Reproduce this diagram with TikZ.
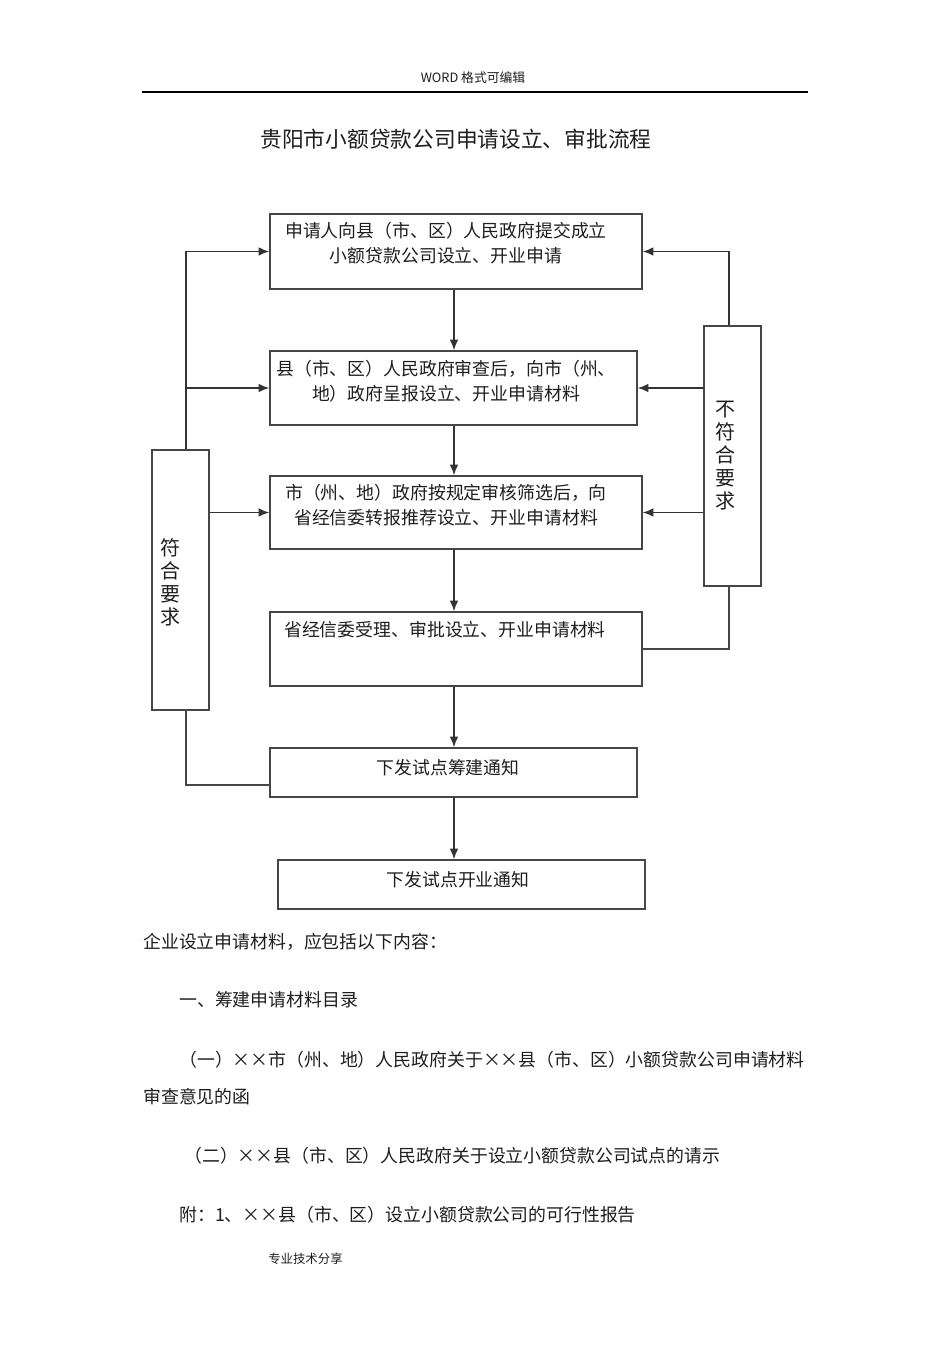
\documentclass[tikz,border=0pt]{standalone}
\usepackage{fontspec}
\setmainfont{Noto Sans CJK SC}
\usetikzlibrary{arrows.meta,positioning}

\definecolor{linegray}{RGB}{70,70,70}
\definecolor{inkgray}{RGB}{30,30,30}
\newcommand{\cross}{\makebox[1em]{×}}

\tikzset{
  box/.style={draw=linegray, line width=1.1pt, inner sep=0pt},
  conn/.style={draw=linegray, line width=1.1pt},
  arr/.style={draw=black!80, line width=1.1pt, -{Latex[length=8pt,width=6.5pt]}},
  boxtext/.style={inner sep=0pt, align=center, text=inkgray,
    font=\fontsize{13.4}{18.75}\selectfont},
  vtext/.style={inner sep=0pt, align=center, text=inkgray,
    font=\fontsize{15}{17.25}\selectfont},
  para/.style={inner sep=0pt, anchor=west, text=inkgray,
    font=\fontsize{13.4}{16}\selectfont}
}

\begin{document}
\begin{tikzpicture}[x=0.75pt,y=-0.75pt]
  \useasboundingbox[fill=white] (0,0) rectangle (950,1345);

  % header and title
  \node[inner sep=0pt, text=inkgray, font=\fontsize{9.6}{11}\selectfont] (head) at (473,78) {WORD 格式可编辑};
  \coordinate (ruleL) at (142,92);
  \coordinate (ruleR) at (808,92);
  \draw[line width=0.9pt] (ruleL) -- (ruleR);
  \node[inner sep=0pt, text=inkgray, font=\fontsize{16.3}{19}\selectfont] (title) at (456,139) {贵阳市小额贷款公司申请设立、审批流程};

  % flow boxes
  \node[box, minimum width=372*0.75pt, minimum height=75*0.75pt] (apply) at (456,251.5) {};
  \node[box, minimum width=367*0.75pt, minimum height=74*0.75pt] (county) at (453.5,388) {};
  \node[box, minimum width=372*0.75pt, minimum height=73*0.75pt] (city) at (456,512.5) {};
  \node[box, minimum width=372*0.75pt, minimum height=74*0.75pt] (prov) at (456,649) {};
  \node[box, minimum width=367*0.75pt, minimum height=49*0.75pt] (build) at (453.5,772.5) {};
  \node[box, minimum width=367*0.75pt, minimum height=49*0.75pt] (open) at (461.5,884.5) {};

  \node[boxtext] (applyT) at (446,243.5) {申请人向县（市、区）人民政府提交成立\\小额贷款公司设立、开业申请};
  \node[boxtext] (countyT) at (446,381) {县（市、区）人民政府审查后，向市（州、\\地）政府呈报设立、开业申请材料};
  \node[boxtext] (cityT) at (446,505.5) {市（州、地）政府按规定审核筛选后，向\\省经信委转报推荐设立、开业申请材料};
  \node[boxtext] (provT) at (445,630) {省经信委受理、审批设立、开业申请材料};
  \node[boxtext] (buildT) at (448,768) {下发试点筹建通知};
  \node[boxtext] (openT) at (458,880) {下发试点开业通知};

  % side boxes
  \node[box, minimum width=57*0.75pt, minimum height=260*0.75pt] (ok) at (180.5,580) {};
  \node[vtext] (okT) at (170,582) {符\\合\\要\\求};
  \node[box, minimum width=57*0.75pt, minimum height=260*0.75pt] (no) at (732.5,456) {};
  \node[vtext] (noT) at (725,456) {不\\符\\合\\要\\求};

  % main trunk
  \coordinate (trunk) at (454,0);
  \draw[arr] (trunk |- apply.south) -- (trunk |- county.north);
  \draw[arr] (trunk |- county.south) -- (trunk |- city.north);
  \draw[arr] (trunk |- city.south) -- (trunk |- prov.north);
  \draw[arr] (trunk |- prov.south) -- (trunk |- build.north);
  \draw[arr] (trunk |- build.south) -- (trunk |- open.north);

  % left side
  \coordinate (lt) at (186,0);
  \draw[arr] (lt |- ok.north) |- (apply.west);
  \draw[arr] (lt |- county.west) -- (county.west);
  \draw[arr] (ok.east |- city.west) -- (city.west);
  \draw[conn] (lt |- ok.south) |- ([yshift=-9.4pt]build.west);

  % right side
  \coordinate (rt) at (729,0);
  \draw[arr] (rt |- no.north) |- (apply.east);
  \draw[arr] (no.west |- county.east) -- (county.east);
  \draw[arr] (no.west |- city.east) -- (city.east);
  \draw[conn] (prov.east) -| (rt |- no.south);

  % text below the chart
  \node[para] (p1) at (143,942) {企业设立申请材料，应包括以下内容：};
  \node[para] (p2) at (179,1000) {一、筹建申请材料目录};
  \node[para] (p3) at (179,1060) {（一）\cross\cross 市（州、地）人民政府关于\cross\cross 县（市、区）小额贷款公司申请材料};
  \node[para] (p4) at (143,1097) {审查意见的函};
  \node[para] (p5) at (184,1156) {（二）\cross\cross 县（市、区）人民政府关于设立小额贷款公司试点的请示};
  \node[para] (p6) at (179,1215) {附：1、\cross\cross 县（市、区）设立小额贷款公司的可行性报告};
  \node[para, font=\fontsize{9.3}{11}\selectfont] (foot) at (268,1259) {专业技术分享};
\end{tikzpicture}
\end{document}
